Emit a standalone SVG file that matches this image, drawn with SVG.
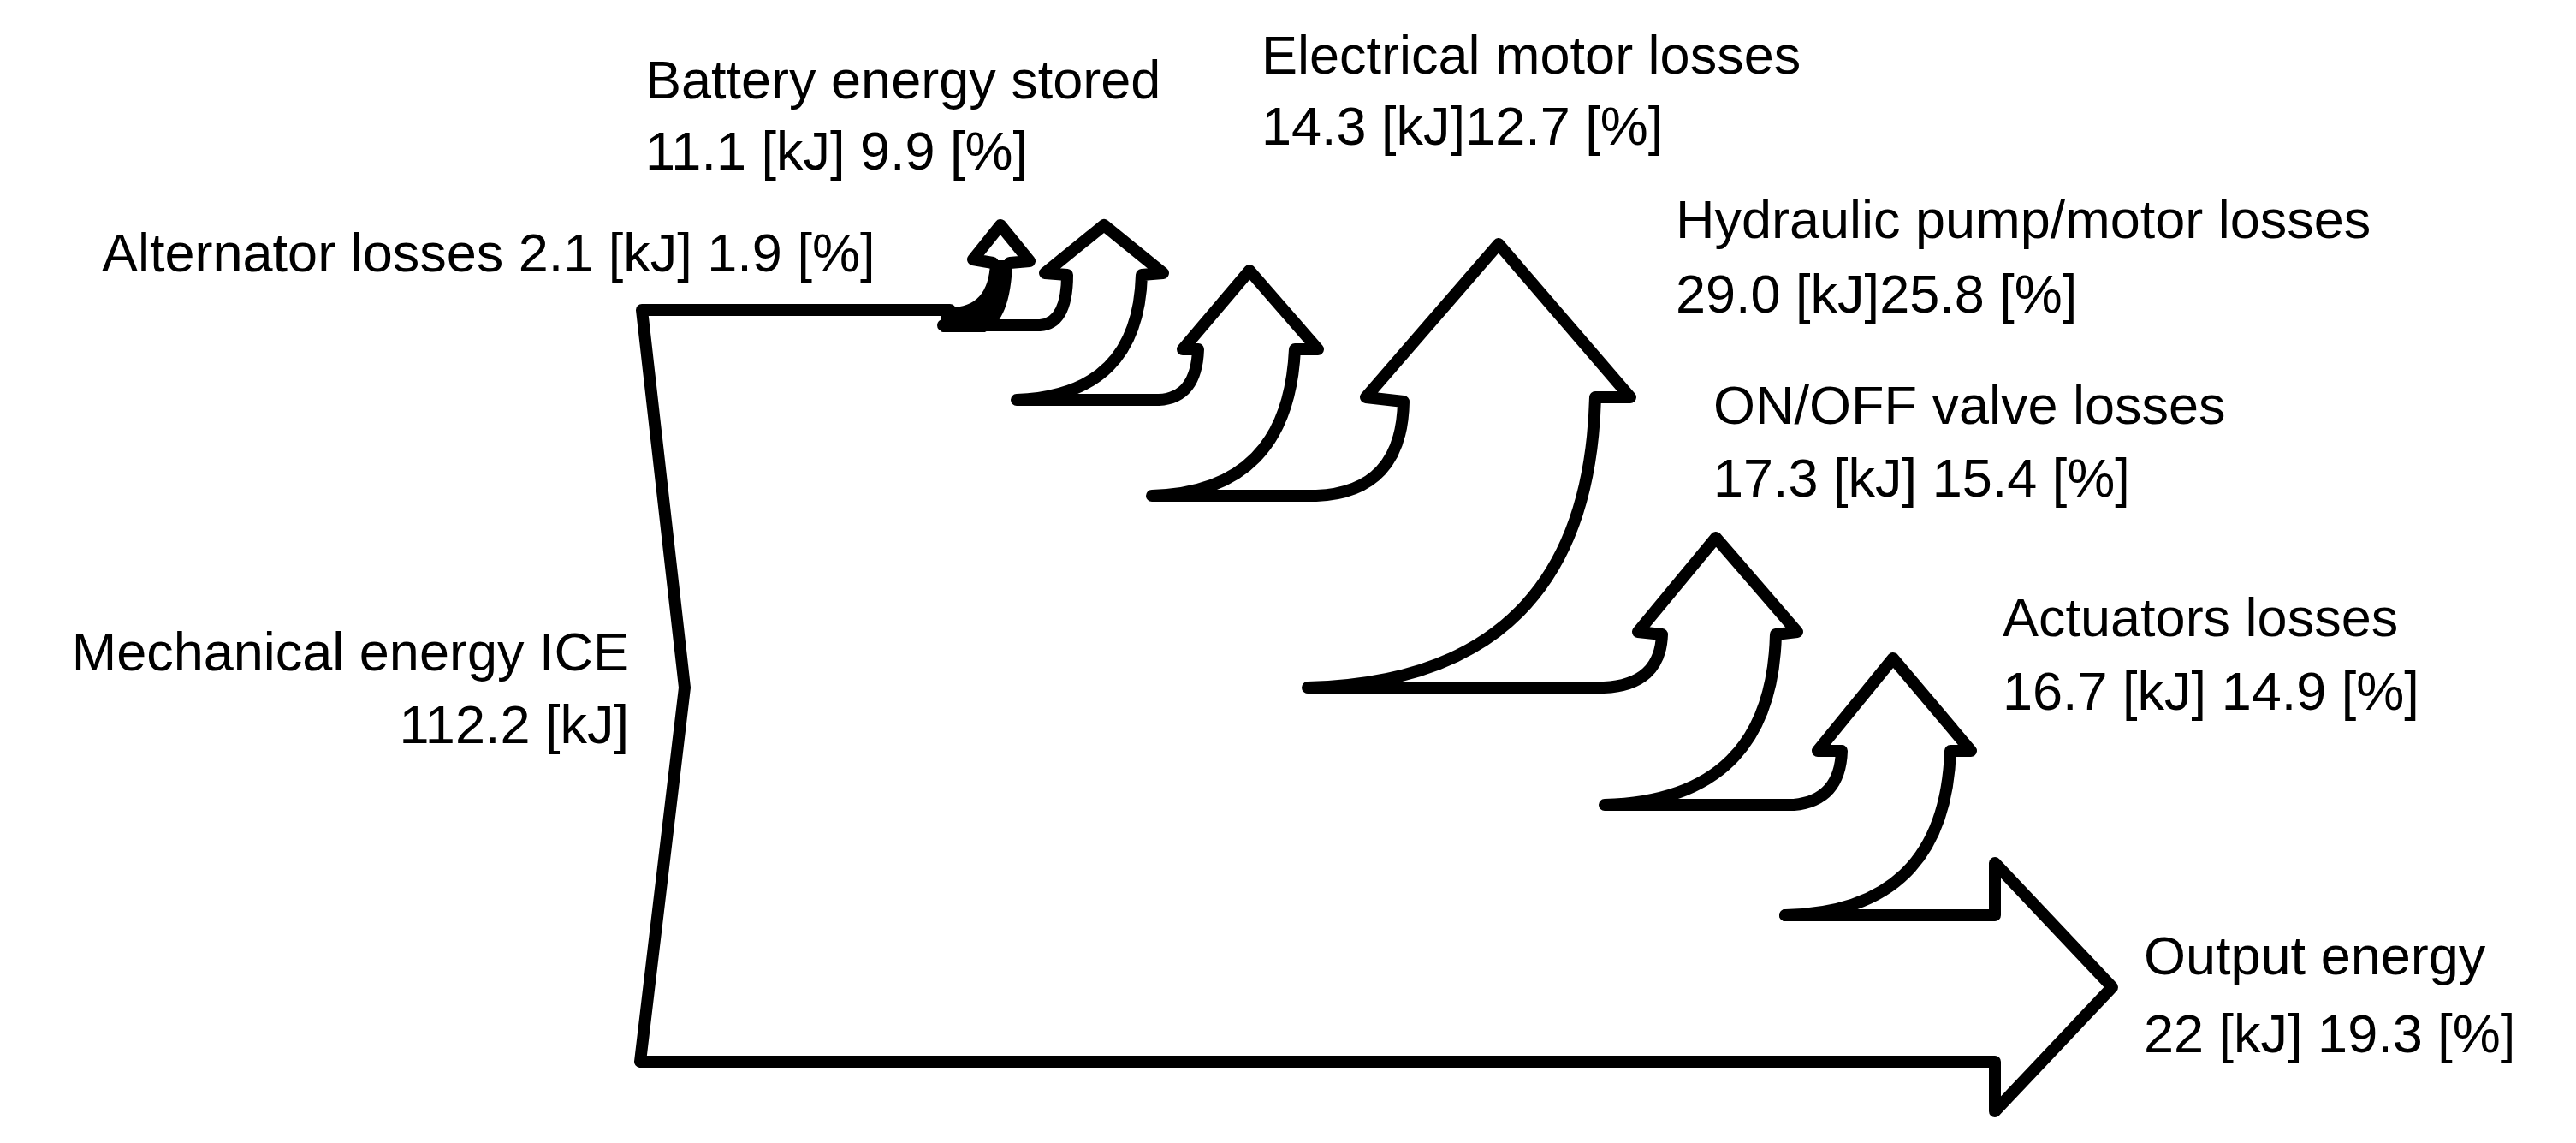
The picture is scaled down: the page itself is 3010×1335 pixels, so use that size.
<svg xmlns="http://www.w3.org/2000/svg" width="3010" height="1335" viewBox="0 0 3010 1335">
<style>
.fl{fill:none;stroke:#000;stroke-width:14;stroke-linejoin:round;stroke-linecap:round}
.st{fill:#000;stroke:#000;stroke-width:6;stroke-linejoin:round}
text{font-family:"Liberation Sans",Arial,sans-serif;font-size:63px;fill:#000}
</style>
<rect width="3010" height="1335" fill="#fff"/>
<g id="connectors">
<path id="main" class="fl" d="M1110,362 L750,362 L800,803 L748,1240 L2331,1240 L2331,1298 L2468,1153 L2331,1008 L2331,1069 L2086,1069"/>
<path id="alternator-stem" class="st" d="M1102,362 L1110,362 Q1158,362 1160,307 L1180,307 Q1178,372 1150,385 L1102,385 Z"/>
<path id="alternator-head" class="fl" d="M1160,307 L1137,303 L1169,263 L1203,305 L1180,307"/>
<path id="chain" class="fl" d="M1102,380 L1215,380 Q1247,378 1247,321 L1221,319 L1290,263 L1359,319 L1334,321 Q1330,462 1188,467 L1354,467 Q1398,465 1400,408 L1382,408 L1460,316 L1540,408 L1513,408 Q1505,575 1346,579 L1538,579 Q1638,575 1640,469 L1596,464 L1751,285 L1905,464 L1864,464 Q1855,795 1528,803 L1874,803 Q1940,800 1942,741 L1914,738 L2005,628 L2100,738 L2075,741 Q2070,935 1875,940 L2096,940 Q2150,935 2152,877 L2124,877 L2212,769 L2303,877 L2279,877 Q2272,1065 2086,1069"/>
</g>
<g id="n-battery"><text x="754" y="115">Battery energy stored</text><text x="754" y="198">11.1 [kJ] 9.9 [%]</text></g>
<g id="n-electrical"><text x="1474" y="86">Electrical motor losses</text><text x="1474" y="169">14.3 [kJ]12.7 [%]</text></g>
<g id="n-alternator"><text x="119" y="317">Alternator losses 2.1 [kJ] 1.9 [%]</text></g>
<g id="n-hydraulic"><text x="1958" y="278">Hydraulic pump/motor losses</text><text x="1958" y="365">29.0 [kJ]25.8 [%]</text></g>
<g id="n-onoff"><text x="2002" y="495">ON/OFF valve losses</text><text x="2002" y="580">17.3 [kJ] 15.4 [%]</text></g>
<g id="n-ice"><text x="735" y="783" text-anchor="end">Mechanical energy ICE</text><text x="735" y="868" text-anchor="end">112.2 [kJ]</text></g>
<g id="n-actuators"><text x="2340" y="743">Actuators losses</text><text x="2340" y="829">16.7 [kJ] 14.9 [%]</text></g>
<g id="n-output"><text x="2505" y="1138">Output energy</text><text x="2505" y="1229">22 [kJ] 19.3 [%]</text></g>
</svg>
